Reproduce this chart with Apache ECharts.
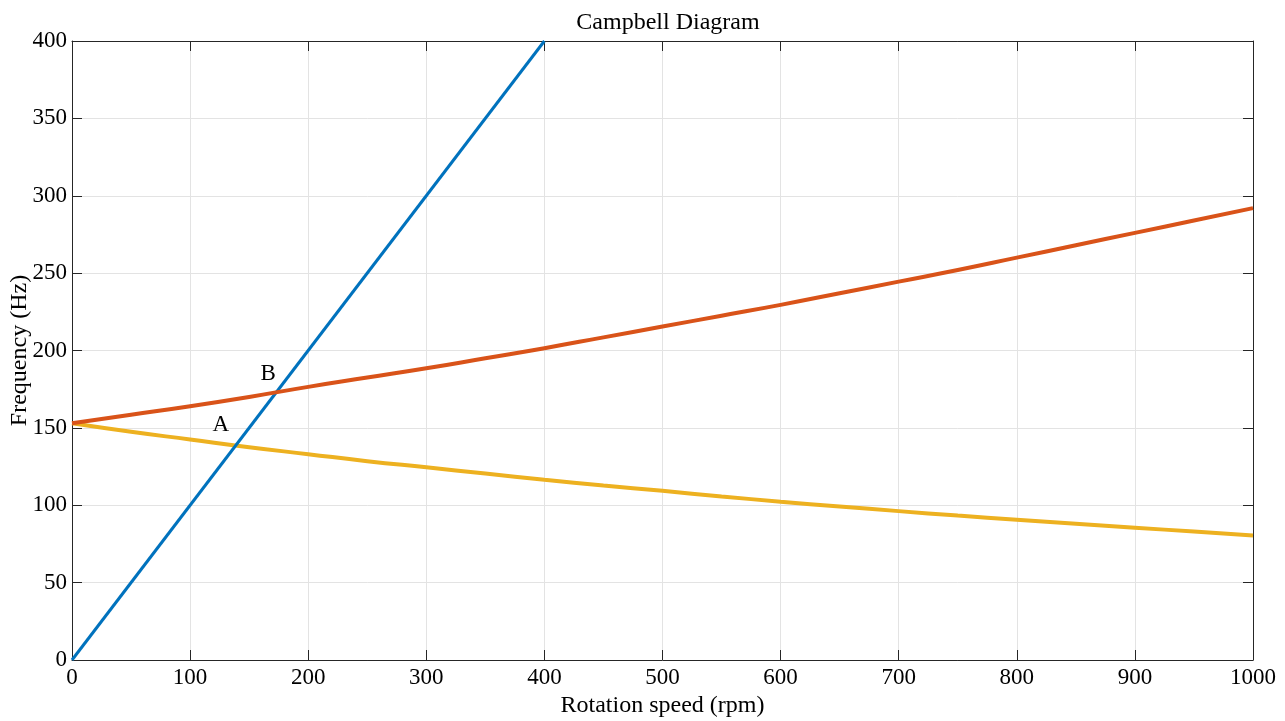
<!DOCTYPE html>
<html>
<head>
<meta charset="utf-8">
<script src="https://cdn.jsdelivr.net/npm/echarts@6/dist/echarts.min.js"></script>
<style>
html,body{margin:0;padding:0;background:#fff;}
#chart{width:1285px;height:721px;}
</style>
</head>
<body>
<div id="chart"></div>
<script>
const speeds = [0,50,100,150,200,250,300,350,400,450,500,550,600,650,700,750,800,850,900,950,1000];
const forwardWhirl = [153,158.5,164,170,176.5,182.5,188.5,195,201.5,208.5,215.5,222.5,229.5,237,244.5,252,260,268,276,284,292];
const backwardWhirl = [153,147.5,142.5,137.5,133,128.5,124.5,120.5,116.5,112.8,109.3,105.7,102.3,99.2,96.2,93.3,90.6,88,85.5,83,80.5];
const excitationSpeeds = [0,400];
const excitationFreq = [0,400];
const pointLabels = [{name:'A', x:126, y:152}, {name:'B', x:166, y:185}];

const font = 'Liberation Serif, Times New Roman, serif';
const axisColor = '#262626';
const gridColor = '#e3e3e3';

function pairs(xs, ys){ return xs.map((x,i)=>[x, ys[i]]); }

const baseX = {
  type:'value', min:0, max:1000, interval:100,
  axisLine:{show:true, onZero:false, lineStyle:{color:axisColor, width:1}},
  axisTick:{show:true, inside:true, length:10, lineStyle:{color:axisColor}},
};
const baseY = {
  type:'value', min:0, max:400, interval:50,
  axisLine:{show:true, onZero:false, lineStyle:{color:axisColor, width:1}},
  axisTick:{show:true, inside:true, length:10, lineStyle:{color:axisColor}},
};

const chart = echarts.init(document.getElementById('chart'), null, {renderer:'canvas'});
chart.setOption({
  backgroundColor:'#fff',
  animation:false,
  title:{text:'Campbell Diagram', left:663, top:6, textAlign:'center',
    textStyle:{fontFamily:font, fontSize:24, fontWeight:'normal', color:'#000'}},
  grid:{left:72, right:32, top:41, bottom:61, containLabel:false, outerBoundsMode:'none'},
  xAxis:[
    Object.assign({}, baseX, {
      position:'bottom',
      name:'Rotation speed (rpm)', nameLocation:'middle', nameGap:34,
      nameTextStyle:{fontFamily:font, fontSize:24, color:'#000'},
      axisLabel:{fontFamily:font, fontSize:23, color:'#000', margin:6, formatter:v=>String(v)},
      splitLine:{show:true, lineStyle:{color:gridColor, width:1}}
    }),
    Object.assign({}, baseX, {
      position:'top', axisLabel:{show:false}, splitLine:{show:false}
    })
  ],
  yAxis:[
    Object.assign({}, baseY, {
      position:'left',
      name:'Frequency (Hz)', nameLocation:'middle', nameGap:40, nameMoveOverlap:false,
      nameTextStyle:{fontFamily:font, fontSize:24, color:'#000'},
      axisLabel:{fontFamily:font, fontSize:23, color:'#000', margin:5, formatter:v=>String(v)},
      splitLine:{show:true, lineStyle:{color:gridColor, width:1}}
    }),
    Object.assign({}, baseY, {
      position:'right', axisLabel:{show:false}, splitLine:{show:false}
    })
  ],
  series:[
    {type:'line', name:'1X excitation', data:pairs(excitationSpeeds, excitationFreq),
      showSymbol:false, lineStyle:{color:'#0072BD', width:3}, z:3},
    {type:'line', name:'Forward whirl', data:pairs(speeds, forwardWhirl), smooth:true,
      showSymbol:false, lineStyle:{color:'#D95319', width:4}, z:4},
    {type:'line', name:'Backward whirl', data:pairs(speeds, backwardWhirl), smooth:true,
      showSymbol:false, lineStyle:{color:'#EDB120', width:4}, z:2},
    {type:'scatter', name:'labels', data:pointLabels.map(p=>({name:p.name, value:[p.x,p.y]})),
      symbolSize:0, silent:true, itemStyle:{opacity:1},
      label:{show:true, position:'inside', formatter:'{b}', fontFamily:font, fontSize:23,
        color:'#000', opacity:1, textBorderWidth:0, textBorderColor:'transparent'}, z:5}
  ]
});
</script>
</body>
</html>
